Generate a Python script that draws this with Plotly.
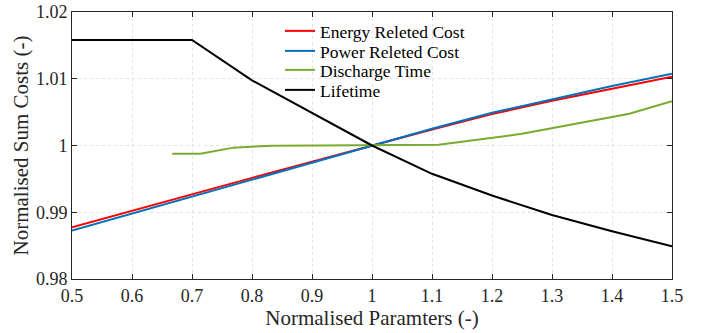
import plotly.graph_objects as go

x_cost = [0.5, 0.6, 0.7, 0.8, 0.9, 1.0, 1.1, 1.2, 1.3, 1.4, 1.5]
energy = [0.98775, 0.99025, 0.99275, 0.99515, 0.99757, 1.0, 1.0024, 1.0047, 1.0067, 1.0085, 1.0103]
power = [0.98725, 0.9898, 0.9924, 0.9949, 0.99745, 1.0, 1.0025, 1.0049, 1.0069, 1.0089, 1.01076]

x_life = [0.5, 0.6, 0.7, 0.8, 0.9, 1.0, 1.1, 1.2, 1.3, 1.4, 1.5]
lifetime = [1.0158, 1.0158, 1.0158, 1.00976, 1.0049, 1.0, 0.99576, 0.9925, 0.9896, 0.98715, 0.9849]

x_dis = [0.667, 0.714, 0.769, 0.833, 0.909, 1.0, 1.111, 1.25, 1.429, 1.5]
discharge = [0.99875, 0.99878, 0.99968, 0.99998, 1.0, 1.0, 1.0001, 1.00175, 1.00476, 1.00665]

x_ticks = [0.5, 0.6, 0.7, 0.8, 0.9, 1.0, 1.1, 1.2, 1.3, 1.4, 1.5]
x_labels = ["0.5", "0.6", "0.7", "0.8", "0.9", "1", "1.1", "1.2", "1.3", "1.4", "1.5"]
y_ticks = [0.98, 0.99, 1.0, 1.01, 1.02]
y_labels = ["0.98", "0.99", "1", "1.01", "1.02"]

FONT = "Liberation Serif"

fig = go.Figure()
series = [
    (x_cost, energy, "Energy Releted Cost", "#ff0000", "legend"),
    (x_cost, power, "Power Releted Cost", "#0072BD", "legend2"),
    (x_dis, discharge, "Discharge Time", "#77AC30", "legend3"),
    (x_life, lifetime, "Lifetime", "#000000", "legend4"),
]
for xs, ys, name, color, leg in series:
    fig.add_trace(go.Scatter(x=xs, y=ys, mode="lines", name=name,
                             line=dict(color=color, width=2), legend=leg))

axis_common = dict(
    showline=True, linecolor="#262626", linewidth=1, mirror="ticks",
    ticks="inside", ticklen=5, tickcolor="#262626",
    showgrid=True, gridcolor="#e3e3e3", griddash="dot", gridwidth=1,
    zeroline=False, automargin=False,
    tickfont=dict(family=FONT, size=18, color="#262626"),
)

fig.update_xaxes(range=[0.5, 1.5], tickvals=x_ticks, ticktext=x_labels,
                 title=dict(text="Normalised Paramters (-)", font=dict(family=FONT, size=21, color="#262626"), standoff=5),
                 **axis_common)
fig.update_yaxes(range=[0.98, 1.02], tickvals=y_ticks, ticktext=y_labels,
                 title=dict(text="Normalised Sum Costs (-)", font=dict(family=FONT, size=21, color="#262626"), standoff=1),
                 **axis_common)

PLOT_TOP, PLOT_H, PLOT_L, PLOT_W = 12, 267, 72, 600
row_centers = [31, 51, 70, 90]
legend_x = (280 - PLOT_L) / PLOT_W

def leg(yc):
    return dict(x=legend_x, y=1 - (yc - PLOT_TOP) / PLOT_H, xanchor="left", yanchor="middle",
                bgcolor="rgba(255,255,255,0)", borderwidth=0,
                font=dict(family=FONT, size=17.5, color="#000000"))

fig.update_layout(
    width=709, height=333,
    margin=dict(l=72, r=37, t=12, b=54),
    paper_bgcolor="white", plot_bgcolor="white",
    font=dict(family=FONT, color="#262626"),
    legend=leg(row_centers[0]),
    legend2=leg(row_centers[1]),
    legend3=leg(row_centers[2]),
    legend4=leg(row_centers[3]),
    showlegend=True,
)

fig.write_html("out.html", config={"displayModeBar": False},
               post_script="document.body.style.margin='0';")
